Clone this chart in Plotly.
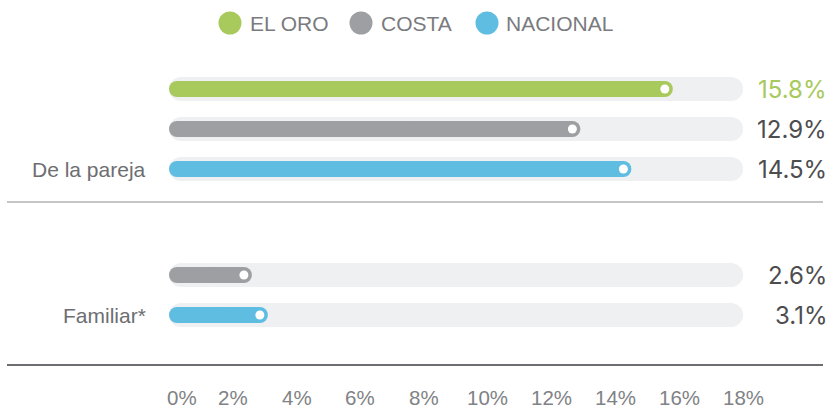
import plotly.graph_objects as go

# ---------------- data ----------------
categories = ["De la pareja", "Familiar*"]
series_names = ["EL ORO", "COSTA", "NACIONAL"]
el_oro = [15.8, None]
costa = [12.9, 2.6]
nacional = [14.5, 3.1]
tick_values = [0, 2, 4, 6, 8, 10, 12, 14, 16, 18]
tick_labels = ["0%", "2%", "4%", "6%", "8%", "10%", "12%", "14%", "16%", "18%"]
axis_max = 18

series_values = [el_oro, costa, nacional]

# ---------------- styling / layout ----------------
colors = ["#A8C95C", "#9D9FA2", "#5EBDE1"]
label_colors = ["#A8C95C", "#4D4D4F", "#4D4D4F"]
TRACK = "#EFF0F2"
SANS = "Liberation Sans, Arial, sans-serif"
NUMF = "Inter, Lato, sans-serif"

W, H = 832, 408
ML, MR, MT, MB = 169, 89, 0, 43
PW, PH = W - ML - MR, H - MT - MB
ppu = PW / axis_max

FIRST_ROW_PX = 89
ROW_PX = 40
GROUP_STRIDE = 3.65  # in row units

BAR_W = 0.4    # 16 px
TRACK_W = 0.6  # 24 px


def px_x(px):
    return (px - ML) / PW


def px_y(px):
    return (MT + PH - px) / PH


y_top = (MT - FIRST_ROW_PX) / ROW_PX
y_bot = (MT + PH - FIRST_ROW_PX) / ROW_PX

fig = go.Figure()


def pill(y, v, width, color, base0=0.0):
    # two overlapping halves, each rounded at its far end -> pill shape
    length = [vv - base0 for vv in v]
    for sign, frac_base in ((1, 0.4), (-1, 0.6)):
        fig.add_trace(go.Bar(
            y=y, x=[sign * l * 0.6 for l in length],
            base=[base0 + l * frac_base for l in length],
            orientation="h", width=width,
            marker=dict(color=color, cornerradius="50%", line=dict(width=0)),
            hoverinfo="skip", showlegend=False))


# tracks
track_rows = []
for g in range(len(categories)):
    for i, vals in enumerate(series_values):
        if vals[g] is not None:
            track_rows.append(g * GROUP_STRIDE + i)
pill(track_rows, [axis_max] * len(track_rows), TRACK_W, TRACK)

annotations = []
for i, vals in enumerate(series_values):
    ys, xs = [], []
    for g, v in enumerate(vals):
        if v is None:
            continue
        ys.append(g * GROUP_STRIDE + i)
        xs.append(v)
        annotations.append(dict(
            x=px_x(829), xref="paper", y=g * GROUP_STRIDE + i, yref="y",
            text=f"{v:.1f}%", showarrow=False, xanchor="right", yanchor="middle",
            font=dict(family=NUMF, size=24, color=label_colors[i])))
    pill(ys, xs, BAR_W, colors[i])
    fig.add_trace(go.Scatter(
        x=[x - 8 / ppu for x in xs], y=ys, mode="markers",
        marker=dict(color="white", size=9, line=dict(width=0)),
        hoverinfo="skip", showlegend=False))

# category labels
for g, cat in enumerate(categories):
    annotations.append(dict(
        x=px_x(148), xref="paper", y=g * GROUP_STRIDE + len(series_names) - 1, yref="y",
        text=cat, showarrow=False, xanchor="right", yanchor="middle",
        font=dict(family=SANS, size=21, color="#6D6E71")))

# tick labels
for tv, tl in zip(tick_values, tick_labels):
    annotations.append(dict(
        x=tv, xref="x", y=0, yref="paper", yshift=-32, text=tl, showarrow=False,
        xanchor="left" if tv == 0 else "center", xshift=-4 if tv == 0 else 0,
        yanchor="middle", font=dict(family=SANS, size=20.5, color="#808285")))

# legend
shapes = []
legend_circle_px = [230, 361, 487]
legend_text_px = [248, 379, 504]
for name, col, cx, tx in zip(series_names, colors, legend_circle_px, legend_text_px):
    shapes.append(dict(
        type="circle", xref="paper", yref="paper", xsizemode="pixel", ysizemode="pixel",
        xanchor=px_x(cx), yanchor=px_y(23), x0=-11.5, x1=11.5, y0=-11.5, y1=11.5,
        fillcolor=col, line=dict(width=0)))
    annotations.append(dict(
        x=px_x(tx), xref="paper", y=px_y(24), yref="paper", text=name, showarrow=False,
        xanchor="left", yanchor="middle", font=dict(family=SANS, size=21, color="#7A7B7E")))

# separator lines
sep_y = (len(series_names) - 1 + GROUP_STRIDE) / 2
shapes.append(dict(type="line", xref="paper", yref="y", x0=px_x(7), x1=px_x(823),
                   y0=sep_y, y1=sep_y, line=dict(color="#C4C5C7", width=2)))
shapes.append(dict(type="line", xref="paper", yref="paper", x0=px_x(7), x1=px_x(823),
                   y0=0, y1=0, line=dict(color="#6D6E71", width=2)))

fig.update_layout(
    template="none",
    width=W, height=H, margin=dict(l=ML, r=MR, t=MT, b=MB),
    paper_bgcolor="white", plot_bgcolor="white", barmode="overlay",
    xaxis=dict(range=[0, axis_max], showgrid=False, zeroline=False, showticklabels=False,
               showline=False, fixedrange=True),
    yaxis=dict(range=[y_bot, y_top], showgrid=False, zeroline=False, showticklabels=False,
               showline=False, fixedrange=True),
    annotations=annotations, shapes=shapes, showlegend=False,
)

fig.write_html(
    "out.html",
    config={"displayModeBar": False},
    post_script="document.body.style.margin='0';document.body.style.overflow='hidden';",
)
